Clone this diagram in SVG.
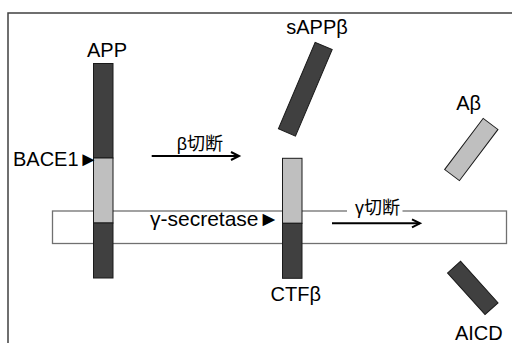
<svg xmlns="http://www.w3.org/2000/svg" width="512" height="343" viewBox="0 0 512 343">
<defs>
<style>
.t{font-family:"Liberation Sans","Noto Sans CJK JP",sans-serif;font-size:20px;fill:#000}
.cj{font-family:"Liberation Sans","Noto Sans CJK JP",sans-serif;font-size:18px;fill:#000}
.dk{fill:#404040;stroke:#1a1a1a;stroke-width:1}
.lt{fill:#bfbfbf;stroke:#1a1a1a;stroke-width:1}
.arr{stroke:#000;stroke-width:2;fill:none;marker-end:url(#ah)}
</style>
<marker id="ah" markerUnits="userSpaceOnUse" markerWidth="12" markerHeight="12" refX="9" refY="5" orient="auto">
<path d="M1,1 L9,5 L1,9" fill="none" stroke="#000" stroke-width="2"/>
</marker>
</defs>
<rect width="512" height="343" fill="#fff"/>
<g id="frame"><path d="M8,343 V13 H512" fill="none" stroke="#404040" stroke-width="1.5"/></g>
<g id="membrane"><rect x="52.5" y="211" width="454" height="32.5" fill="#fff" stroke="#707070" stroke-width="1.3"/></g>
<g id="APP">
<rect class="dk" x="93.5" y="63.5" width="19.5" height="94.5"/>
<rect class="lt" x="93.5" y="158" width="19.5" height="65"/>
<rect class="dk" x="93.5" y="223" width="19.5" height="55"/>
<text class="t" x="107" y="57" text-anchor="middle">APP</text>
</g>
<g id="CTFb">
<rect class="lt" x="282.5" y="158.3" width="19.5" height="65"/>
<rect class="dk" x="282.5" y="223.3" width="19.5" height="55"/>
<text class="t" x="295.7" y="301" text-anchor="middle">CTFβ</text>
</g>
<g id="sAPPb">
<rect class="dk" x="-9.25" y="-47" width="18.5" height="94" transform="translate(305.3 89.2) rotate(23)"/>
<text class="t" x="317" y="34" text-anchor="middle">sAPPβ</text>
</g>
<g id="Abeta">
<rect class="lt" x="-9.25" y="-32" width="18.5" height="64" transform="translate(471.3 149.5) rotate(37)"/>
<text class="t" x="468.7" y="110" text-anchor="middle">Aβ</text>
</g>
<g id="AICD">
<rect class="dk" x="-8.75" y="-28" width="17.5" height="56" transform="translate(472.8 287.9) rotate(-42)"/>
<text class="t" x="478.8" y="340" text-anchor="middle">AICD</text>
</g>
<g id="BACE1"><text class="t" x="13" y="166">BACE1►</text></g>
<g id="gamma-secretase"><text class="t" x="150" y="226" style="font-size:21px">γ-secretase►</text></g>
<g id="connectors">
<line class="arr" x1="151.7" y1="156" x2="239" y2="156"/>
<text class="cj" x="176.7" y="150">β切断</text>
<rect x="347" y="208" width="55.5" height="6" fill="#fff"/>
<line class="arr" x1="332" y1="223.3" x2="420" y2="223.3"/>
<text class="cj" x="355" y="213.5">γ切断</text>
</g>
</svg>
